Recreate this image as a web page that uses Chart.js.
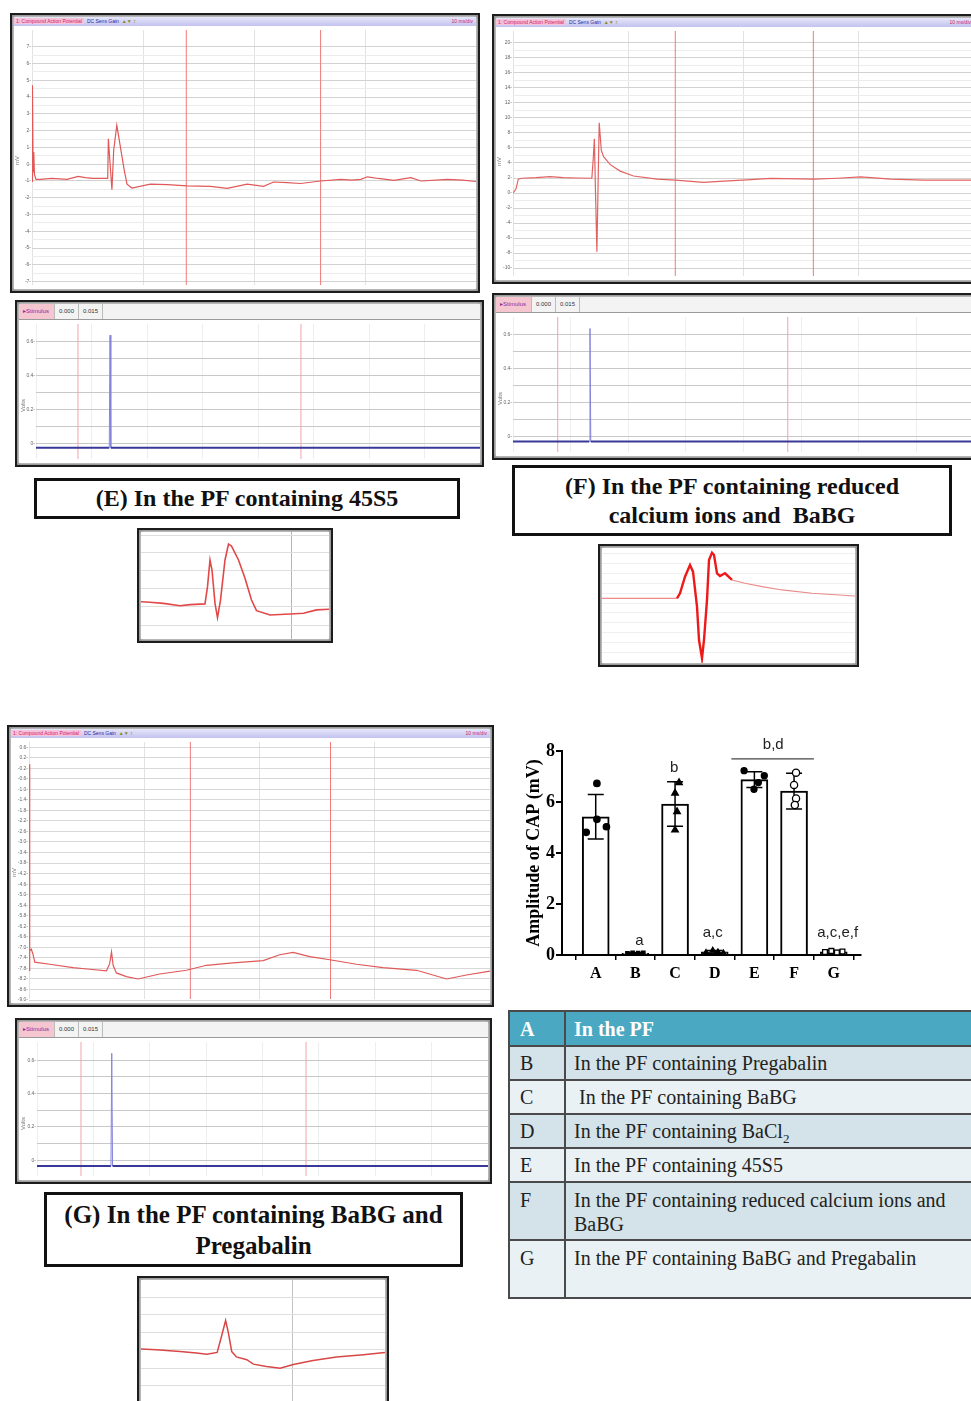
<!DOCTYPE html>
<html>
<head>
<meta charset="utf-8">
<script src="https://cdn.jsdelivr.net/npm/chart.js@4.4.1/dist/chart.umd.min.js"></script>
<style>
  html, body { margin: 0; padding: 0; }
  body { width: 971px; height: 1401px; overflow: hidden; position: relative; background: #fff; font-family: "Liberation Serif", serif; }
  .frame { position: absolute; box-sizing: border-box; border: 2px solid #1c1c1c; padding: 2px; background: #fff;
           box-shadow: inset 0 0 3px 2px #8e8e8e; overflow: hidden; }
  .frame canvas { display: block; background: #fff; }
  .tbar { height: 9px; background: linear-gradient(#e6e6fb, #c2c2ee); font: 5px "Liberation Sans", sans-serif; line-height: 9px; white-space: nowrap; position: relative; }
  .tbar .a { background: #f7c3da; color: #d0206a; padding: 0 2px; }
  .tbar .b { color: #2a2aa0; padding: 0 3px; }
  .tbar .c { color: #8a8a20; }
  .tbar .r { position: absolute; right: 3px; top: 0; color: #d0206a; }
  .tabs { height: 16px; box-sizing: border-box; background: #f3f3f3; border-bottom: 1px solid #9a9a9a; font: 6px "Liberation Sans", sans-serif; line-height: 15px; white-space: nowrap; }
  .tabs span { display: inline-block; height: 15px; border-right: 1px solid #bcbcbc; padding: 0 4px; color: #333; vertical-align: top; }
  .tabs .st { background: #f5c5d0; color: #8a2aa0; width: 27px; }
  .vlab { position: absolute; font: 6px "Liberation Sans", sans-serif; color: #777; transform: rotate(-90deg); transform-origin: left top; }
  .label { position: absolute; box-sizing: border-box; border: 3px solid #111; background: #fff; text-align: center; font-weight: bold; color: #111; white-space: nowrap; }
  table.key { position: absolute; left: 508px; top: 1010px; width: 470px; border-collapse: collapse; font: 20px "Liberation Serif", serif; color: #222; }
  table.key td { border: 2px solid #4a4a4a; vertical-align: top; padding: 0 0 0 8px; line-height: 24px; white-space: nowrap; }
  table.key td.k { width: 44px; padding-left: 10px; }
  table.key tr.h td { background: #4aa8c2; color: #fff; font-weight: bold; vertical-align: middle; }
  table.key tr.o td { background: #d3e3e9; }
  table.key tr.e td { background: #e9f1f4; }
  table.key tr.m td { vertical-align: middle; }
</style>
</head>
<body>

<!-- E: compound action potential -->
<div class="frame" style="left:10px;top:13px;width:470px;height:280px;">
  <div class="tbar"><span class="a">1: Compound Action Potential</span><span class="b">DC Sens Gain</span><span class="c">&#9650;&#9660; &#8597;</span><span class="r">10 ms/div</span></div>
  <canvas id="mainE" width="462" height="263"></canvas>
  <span class="vlab" style="left:2px;top:150px;">mV</span>
</div>
<!-- F: compound action potential -->
<div class="frame" style="left:492px;top:14px;width:486px;height:270px;">
  <div class="tbar"><span class="a">1: Compound Action Potential</span><span class="b">DC Sens Gain</span><span class="c">&#9650;&#9660; &#8597;</span><span class="r">10 ms/div</span></div>
  <canvas id="mainF" width="478" height="253"></canvas>
  <span class="vlab" style="left:2px;top:150px;">mV</span>
</div>

<!-- stimulus windows E, F -->
<div class="frame" style="left:15px;top:300px;width:469px;height:167px;">
  <div class="tabs"><span class="st">&#9656;Stimulus</span><span>0.000</span><span>0.015</span></div>
  <canvas id="stimE" width="461" height="143"></canvas>
  <span class="vlab" style="left:3px;top:110px;">Volts</span>
</div>
<div class="frame" style="left:492px;top:293px;width:486px;height:167px;">
  <div class="tabs"><span class="st">&#9656;Stimulus</span><span>0.000</span><span>0.015</span></div>
  <canvas id="stimF" width="478" height="143"></canvas>
  <span class="vlab" style="left:3px;top:110px;">Volts</span>
</div>

<div class="label" style="left:34px;top:478px;width:426px;height:41px;font-size:24px;line-height:35px;">(E) In the PF containing 45S5</div>
<div class="label" style="left:512px;top:465px;width:440px;height:71px;font-size:24px;line-height:29px;padding-top:4px;">(F) In the PF containing reduced<br>calcium ions and &nbsp;BaBG</div>

<!-- insets E, F -->
<div class="frame" style="left:137px;top:528px;width:196px;height:115px;"><canvas id="insE" width="188" height="107"></canvas></div>
<div class="frame" style="left:598px;top:544px;width:261px;height:123px;"><canvas id="insF" width="253" height="115"></canvas></div>

<!-- G -->
<div class="frame" style="left:7px;top:725px;width:487px;height:282px;">
  <div class="tbar"><span class="a">1: Compound Action Potential</span><span class="b">DC Sens Gain</span><span class="c">&#9650;&#9660; &#8597;</span><span class="r">10 ms/div</span></div>
  <canvas id="mainG" width="479" height="265"></canvas>
  <span class="vlab" style="left:2px;top:150px;">mV</span>
</div>
<div class="frame" style="left:15px;top:1018px;width:477px;height:166px;">
  <div class="tabs"><span class="st">&#9656;Stimulus</span><span>0.000</span><span>0.015</span></div>
  <canvas id="stimG" width="469" height="142"></canvas>
  <span class="vlab" style="left:3px;top:110px;">Volts</span>
</div>
<div class="label" style="left:44px;top:1192px;width:419px;height:75px;font-size:25px;line-height:31px;padding-top:4px;">(G) In the PF containing BaBG and<br>Pregabalin</div>
<div class="frame" style="left:137px;top:1276px;width:252px;height:134px;"><canvas id="insG" width="244" height="126"></canvas></div>

<!-- bar chart -->
<canvas id="bars" width="348" height="255" style="position:absolute;left:522px;top:735px;"></canvas>

<table class="key">
  <tr class="h" style="height:35px;"><td class="k">A</td><td>In the PF</td></tr>
  <tr class="o m" style="height:34px;"><td class="k">B</td><td>In the PF containing Pregabalin</td></tr>
  <tr class="e m" style="height:34px;"><td class="k">C</td><td>&nbsp;In the PF containing BaBG</td></tr>
  <tr class="o m" style="height:34px;"><td class="k">D</td><td>In the PF containing BaCl<sub style="font-size:13px;line-height:0;">2</sub></td></tr>
  <tr class="e m" style="height:34px;"><td class="k">E</td><td>In the PF containing 45S5</td></tr>
  <tr class="o" style="height:58px;"><td class="k" style="padding-top:5px;">F</td><td style="padding-top:5px;">In the PF containing reduced calcium ions and<br>BaBG</td></tr>
  <tr class="e" style="height:58px;"><td class="k" style="padding-top:5px;">G</td><td style="padding-top:5px;">In the PF containing BaBG and Pregabalin</td></tr>
</table>

<script>
// ---- compound action potential traces (time ms, amplitude mV) ----
const capE_t = [0, 0.02, 0.05, 0.08, 0.11, 0.18, 0.36, 0.9, 1.58, 2.08, 2.4, 2.75, 3.34, 3.41, 3.44, 3.52, 3.60, 3.68, 3.82, 3.97, 4.15, 4.28, 4.50, 5.33, 6.1, 6.98, 8.04, 8.79, 9.69, 10.43, 10.88, 11.5, 12.10, 13.00, 13.91, 14.4, 14.81, 15.11, 15.6, 16.30, 17.07, 17.52, 18.72, 19.4, 20.0];
const capE_v = [-1.02, 4.71, -0.44, 0.72, -0.61, -0.90, -0.90, -0.85, -0.90, -0.73, -0.80, -0.84, -0.84, -0.84, 1.51, -0.03, -1.52, 0.83, 2.32, 1.12, -0.32, -1.19, -1.42, -1.19, -1.22, -1.29, -1.32, -1.44, -1.19, -1.32, -1.06, -1.10, -1.15, -1.00, -0.90, -0.95, -0.90, -0.75, -0.85, -0.96, -0.80, -1.00, -0.90, -0.95, -1.03];
const capF_t = [0.01, 0.13, 0.23, 0.38, 1.0, 1.61, 2.19, 2.8, 3.42, 3.48, 3.53, 3.58, 3.64, 3.69, 3.74, 3.83, 3.93, 4.22, 4.65, 5.23, 6.25, 7.04, 8.27, 9.14, 10.15, 11.17, 13.06, 14.07, 15.09, 16.39, 17.84, 20.0];
const capF_v = [0.0, 0.55, 1.85, 1.97, 2.05, 2.19, 2.06, 2.0, 1.97, 4.5, 7.23, 0.0, -7.83, 1.0, 9.37, 5.72, 4.85, 3.78, 2.92, 2.27, 1.85, 1.72, 1.42, 1.59, 1.75, 1.94, 1.85, 1.97, 2.14, 1.85, 1.72, 1.72];
const capG_t = [0.0, 0.02, 0.04, 0.10, 0.17, 0.25, 0.90, 1.91, 2.63, 3.36, 3.50, 3.58, 3.65, 3.79, 4.23, 4.73, 5.67, 6.83, 7.70, 8.85, 10.16, 10.88, 11.46, 12.18, 13.05, 14.21, 15.36, 16.81, 18.12, 18.98, 20.0];
const capG_v = [-7.87, -0.05, -7.13, -7.07, -7.25, -7.56, -7.64, -7.77, -7.83, -7.89, -7.62, -7.17, -7.68, -7.97, -8.11, -8.20, -8.01, -7.87, -7.68, -7.59, -7.50, -7.28, -7.19, -7.35, -7.47, -7.64, -7.77, -7.87, -8.20, -8.05, -7.90];

// time cursors (ms)
const cursorsE = [6.95, 13.0];
const cursorsF = [7.04, 13.03];
const cursorsG = [7.0, 13.08];

// y tick labels of the recorder windows
const ticksE = [7, 6, 5, 4, 3, 2, 1, 0, -1, -2, -3, -4, -5, -6, -7];
const ticksF = [20, 18, 16, 14, 12, 10, 8, 6, 4, 2, 0, -2, -4, -6, -8, -10];
const ticksG = [0.6, 0.2, -0.2, -0.6, -1.0, -1.4, -1.8, -2.2, -2.6, -3.0, -3.4, -3.8, -4.2, -4.6, -5.0, -5.4, -5.8, -6.2, -6.6, -7.0, -7.4, -7.8, -8.2, -8.6, -9.0];
const timeTicks = [0, 5, 10, 15, 20];

// ---- stimulus traces (ms, volts) ----
const stimE_t = [0, 6.60, 6.67, 6.74, 40];
const stimE_v = [-0.022, -0.022, 0.635, -0.022, -0.022];
const stimF_t = [0, 6.61, 6.68, 6.75, 40];
const stimF_v = [-0.028, -0.028, 0.637, -0.028, -0.028];
const stimG_t = [0, 6.56, 6.63, 6.70, 40];
const stimG_v = [-0.034, -0.034, 0.641, -0.034, -0.034];
const stimCursE = [3.78, 23.87];
const stimCursF = [3.88, 23.84];
const stimCursG = [3.90, 23.86];
const stimTicks = [0, 0.1, 0.2, 0.3, 0.4, 0.5, 0.6];
const stimLabels = [0, 0.2, 0.4, 0.6];
const stimTimeTicks = [0, 5, 10, 15, 20, 25, 30, 35, 40];

// ---- enlarged insets (ms, mV) ----
const insE_t = [2.03, 2.24, 2.51, 2.84, 3.04, 3.34, 3.39, 3.44, 3.48, 3.54, 3.59, 3.65, 3.74, 3.81, 3.87, 4.01, 4.14, 4.27, 4.37, 4.64, 5.04, 5.31, 5.57, 5.84];
const insE_v = [-0.83, -0.86, -0.92, -1.05, -0.99, -0.95, -0.01, 1.45, 0.90, -0.92, -1.70, -0.74, 1.45, 2.32, 2.21, 1.45, 0.45, -0.74, -1.32, -1.56, -1.50, -1.46, -1.28, -1.24];
const insF_t = [2.65, 3.40, 3.43, 3.48, 3.53, 3.56, 3.60, 3.62, 3.65, 3.67, 3.70, 3.72, 3.75, 3.77, 3.80, 3.83, 3.88, 3.95, 4.08, 4.25, 4.45, 4.75, 5.18];
const insF_v = [1.97, 1.97, 2.78, 5.45, 7.34, 6.26, 0.62, -4.76, -7.71, -4.76, 1.70, 8.15, 9.32, 8.95, 6.00, 5.57, 6.00, 4.92, 4.39, 3.84, 3.31, 2.78, 2.34];
const insG_t = [1.75, 2.10, 2.60, 2.95, 3.17, 3.39, 3.48, 3.57, 3.63, 3.70, 3.80, 4.02, 4.16, 4.44, 4.73, 5.01, 5.43, 5.93, 6.50, 6.96];
const insG_v = [-7.80, -7.82, -7.86, -7.89, -7.92, -7.88, -7.53, -7.17, -7.45, -7.86, -7.98, -8.04, -8.14, -8.19, -8.23, -8.15, -8.06, -7.98, -7.93, -7.88];
const insE_grid = [2.8, 1.85, 0.9, -0.1, -1.1, -2.15];
const insF_grid = [9.2, 7.6, 6.0, 4.4, 2.8, 1.2, -0.4, -2.0, -3.6, -5.2, -6.8];
const insG_grid = [-6.65, -7.04, -7.44, -7.82, -8.23, -8.62, -9.0];

// ---- bar chart: amplitude of CAP (mV) ----
const groups = ['A', 'B', 'C', 'D', 'E', 'F', 'G'];
const capMean = [5.42, 0.07, 5.92, 0.12, 6.88, 6.43, 0.12];
const capSD = [0.87, 0.02, 0.87, 0.06, 0.31, 0.70, 0.06];
const ptsA = [4.81, 6.73, 5.32, 5.03];
const ptsB = [0.06, 0.08, 0.07, 0.08];
const ptsC = [6.76, 6.35, 5.62, 4.90];
const ptsD = [0.10, 0.18, 0.12, 0.08];
const ptsE = [7.23, 6.50, 6.76, 7.03];
const ptsF = [7.15, 6.67, 6.14, 5.88];
const ptsG = [0.12, 0.16, 0.10, 0.14];
const jitter = [[-0.24, 0.03, 0.03, 0.27], [-0.2, -0.07, 0.07, 0.2], [0.1, 0.0, 0.05, 0.0], [-0.22, -0.05, 0.08, 0.22],
                [-0.26, -0.01, 0.1, 0.25], [0.05, 0.0, 0.05, 0.02], [-0.22, -0.06, 0.08, 0.22]];
const yTicksBar = [0, 2, 4, 6, 8];
const sigText = ['a', 'b', 'a,c', 'b,d', 'a,c,e,f'];
const sigX = [1.1, 1.98, 2.95, 4.475, 6.1];
const sigY = [0.39, 7.19, 0.72, 8.08, 0.72];
const bracketX = [3.42, 5.5];
const bracketY = 7.69;

Chart.defaults.font.family = '"Liberation Sans", sans-serif';
const zip = (xs, ys) => xs.map((x, i) => ({ x: x, y: ys[i] }));
const BASE = { animation: false, responsive: false, devicePixelRatio: 1, events: [],
               plugins: { legend: { display: false }, tooltip: { enabled: false } }, layout: { padding: 0 } };

function traceChart(id, o) {
  const ds = [{ data: zip(o.t, o.v), borderColor: o.color, borderWidth: o.width, pointRadius: 0, segment: o.segment }];
  (o.cursors || []).forEach(c => ds.push({ data: [{ x: c, y: o.yMin }, { x: c, y: o.yMax }], borderColor: o.cursorColor, borderWidth: 1, pointRadius: 0 }));
  const minor = o.minor || [];
  const all = o.yGrid.concat(minor);
  return new Chart(document.getElementById(id), {
    type: 'line',
    data: { datasets: ds },
    options: Object.assign({}, BASE, {
      scales: {
        x: { type: 'linear', min: o.xMin, max: o.xMax,
             afterBuildTicks: s => { s.ticks = o.xGrid.map(v => ({ value: v })); },
             ticks: { display: false }, grid: { color: o.xGridColor, drawTicks: false }, border: { display: false },
             afterFit: s => { s.height = 0; } },
        y: { type: 'linear', min: o.yMin, max: o.yMax,
             afterBuildTicks: s => { s.ticks = all.map(v => ({ value: v })); },
             ticks: { display: o.axisW > 0, font: { size: 5 }, color: '#666', padding: 1, autoSkip: false,
                      callback: v => (o.labels || []).includes(v) ? (o.fmt ? o.fmt(v) : String(v)) + '-' : '' },
             grid: { color: c => minor.includes(c.tick.value) ? o.minorColor : o.gridColor, drawTicks: false },
             border: { display: false },
             afterFit: s => { s.width = o.axisW; } }
      }
    })
  });
}
const mids = a => a.slice(1).map((v, i) => (v + a[i]) / 2);
const stimSeg = { borderColor: c => (c.p0DataIndex === 1 || c.p0DataIndex === 2) ? '#8484dc' : '#38389a',
                  borderWidth: c => (c.p0DataIndex === 1 || c.p0DataIndex === 2) ? 1 : 2 };

traceChart('mainE', { t: capE_t, v: capE_v, color: '#e05858', width: 1.2, cursors: cursorsE, cursorColor: '#f07a7a',
  xMin: 0, xMax: 20, xGrid: timeTicks, xGridColor: '#e2e2e2', yMin: -7.2, yMax: 8.0,
  yGrid: ticksE, minor: mids(ticksE), labels: ticksE, gridColor: '#d2d2d2', minorColor: '#ececec', axisW: 18 });
traceChart('mainF', { t: capF_t, v: capF_v, color: '#e26262', width: 1.2, cursors: cursorsF, cursorColor: '#f07a7a',
  xMin: 0, xMax: 20, xGrid: timeTicks, xGridColor: '#e2e2e2', yMin: -11.06, yMax: 21.59,
  yGrid: ticksF, minor: mids(ticksF), labels: ticksF, gridColor: '#d2d2d2', minorColor: '#ececec', axisW: 17 });
traceChart('mainG', { t: capG_t, v: capG_v, color: '#e05858', width: 1.2, cursors: cursorsG, cursorColor: '#f07a7a',
  xMin: 0, xMax: 20, xGrid: timeTicks, xGridColor: '#e2e2e2', yMin: -8.96, yMax: 0.795,
  yGrid: ticksG, labels: ticksG, fmt: v => v.toFixed(1), gridColor: '#d8d8d8', axisW: 18 });

traceChart('stimE', { t: stimE_t, v: stimE_v, color: '#38389a', width: 2, segment: stimSeg, cursors: stimCursE, cursorColor: '#f2a4ac',
  xMin: 0, xMax: 40, xGrid: stimTimeTicks, xGridColor: '#eeeeee', yMin: -0.088, yMax: 0.70,
  yGrid: stimTicks, labels: stimLabels, gridColor: '#c8c8c8', axisW: 17 });
traceChart('stimF', { t: stimF_t, v: stimF_v, color: '#38389a', width: 2, segment: stimSeg, cursors: stimCursF, cursorColor: '#f2a4ac',
  xMin: 0, xMax: 40, xGrid: stimTimeTicks, xGridColor: '#eeeeee', yMin: -0.089, yMax: 0.704,
  yGrid: stimTicks, labels: stimLabels, gridColor: '#c8c8c8', axisW: 17 });
traceChart('stimG', { t: stimG_t, v: stimG_v, color: '#38389a', width: 2, segment: stimSeg, cursors: stimCursG, cursorColor: '#f2a4ac',
  xMin: 0, xMax: 40, xGrid: stimTimeTicks, xGridColor: '#eeeeee', yMin: -0.0945, yMax: 0.709,
  yGrid: stimTicks, labels: stimLabels, gridColor: '#c8c8c8', axisW: 18 });

traceChart('insE', { t: insE_t, v: insE_v, color: '#e24848', width: 1.6,
  xMin: 2.06, xMax: 5.82, xGrid: [5.08], xGridColor: '#b4b4b4', yMin: -2.87, yMax: 2.98,
  yGrid: insE_grid, gridColor: '#dedede', axisW: 0 });
traceChart('insF', { t: insF_t, v: insF_v, color: '#e88c8c', width: 1.2,
  segment: { borderColor: c => (c.p0.parsed.x >= 3.40 && c.p1.parsed.x <= 3.95) ? '#ee1a1a' : '#ea8a8a',
             borderWidth: c => (c.p0.parsed.x >= 3.40 && c.p1.parsed.x <= 3.95) ? 2.4 : 1.2 },
  xMin: 2.65, xMax: 5.18, xGrid: [], xGridColor: '#dddddd', yMin: -8.47, yMax: 10.08,
  yGrid: insF_grid, gridColor: '#efefef', axisW: 0 });
traceChart('insG', { t: insG_t, v: insG_v, color: '#d84646', width: 1.5,
  xMin: 1.77, xMax: 6.96, xGrid: [5.0], xGridColor: '#c4c4c4', yMin: -9.07, yMax: -6.27,
  yGrid: insG_grid, gridColor: '#dedede', axisW: 0 });

// ---- bar chart ----
const ptsAll = [ptsA, ptsB, ptsC, ptsD, ptsE, ptsF, ptsG];
const markStyle = ['circle', 'rect', 'triangle', 'triangle', 'circle', 'circle', 'rect'];
const markFill = ['#000', '#000', '#000', '#000', '#000', '#fff', '#fff'];
const markSize = [3.2, 2.4, 3.8, 3.0, 3.0, 3.6, 3.4];

const barSets = [];
ptsAll.forEach((p, i) => barSets.push({
  type: 'line', showLine: false, order: 0,
  data: p.map((v, k) => ({ x: i + jitter[i][k], y: v })),
  pointStyle: markStyle[i], pointRadius: markSize[i], pointBackgroundColor: markFill[i],
  pointBorderColor: '#000', pointBorderWidth: 1.3
}));
capMean.forEach((m, i) => barSets.push({
  type: 'line', order: 1,
  data: [{ x: i, y: m - capSD[i] }, { x: i, y: m + capSD[i] }],
  borderColor: '#000', borderWidth: 1.5, pointStyle: 'line', pointRadius: 8,
  pointBorderColor: '#000', pointBorderWidth: 1.5
}));
barSets.push({ type: 'line', order: 1, data: bracketX.map(x => ({ x: x, y: bracketY })),
  borderColor: '#444', borderWidth: 1.2, pointRadius: 0 });
barSets.push({ type: 'bar', order: 2, data: capMean.map((m, i) => ({ x: i, y: m })),
  backgroundColor: '#fff', borderColor: '#000', borderWidth: 2, barThickness: 27 });

const sigPlugin = {
  id: 'sig',
  afterDatasetsDraw(chart) {
    const ctx = chart.ctx, xs = chart.scales.x, ys = chart.scales.y;
    ctx.save();
    ctx.fillStyle = '#222';
    ctx.font = '15px "Liberation Sans", sans-serif';
    ctx.textAlign = 'center';
    ctx.textBaseline = 'alphabetic';
    sigText.forEach((t, i) => ctx.fillText(t, xs.getPixelForValue(sigX[i]), ys.getPixelForValue(sigY[i])));
    ctx.restore();
  }
};

new Chart(document.getElementById('bars'), {
  type: 'bar',
  data: { datasets: barSets },
  plugins: [sigPlugin],
  options: Object.assign({}, BASE, {
    layout: { padding: { top: 16, right: 7, left: 0, bottom: 0 } },
    scales: {
      x: { type: 'linear', min: -0.85, max: 6.675, offset: false,
           afterBuildTicks: s => { s.ticks = groups.map((g, i) => ({ value: i })); },
           ticks: { color: '#000', padding: 4, autoSkip: false, font: { family: '"Liberation Serif", serif', size: 16, weight: 'bold' },
                    callback: v => groups[v] },
           grid: { drawOnChartArea: false, drawTicks: true, tickLength: 5, color: '#000', lineWidth: 1.5 },
           border: { color: '#000', width: 2 },
           afterFit: s => { s.height = 35; } },
      y: { type: 'linear', min: 0, max: 8,
           afterBuildTicks: s => { s.ticks = yTicksBar.map(v => ({ value: v })); },
           ticks: { color: '#000', padding: 1, font: { family: '"Liberation Serif", serif', size: 18, weight: 'bold' } },
           grid: { drawOnChartArea: false, drawTicks: true, tickLength: 6, color: '#000', lineWidth: 2 },
           border: { color: '#000', width: 2 },
           title: { display: true, text: 'Amplitude of CAP (mV)', color: '#000', padding: { top: 2, bottom: 2 },
                    font: { family: '"Liberation Serif", serif', size: 18, weight: 'bold' } },
           afterFit: s => { s.width = 40; } }
    }
  })
});
</script>
</body>
</html>
